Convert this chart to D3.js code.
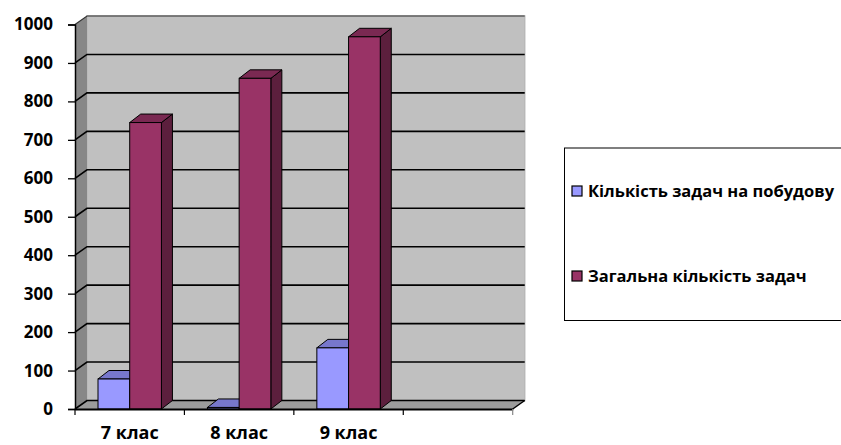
<!DOCTYPE html>
<html><head><meta charset="utf-8">
<script src="https://cdn.jsdelivr.net/npm/d3@7"></script>
<style>html,body{margin:0;padding:0;background:#fff;}svg{display:block;}</style>
</head><body>
<script>
const categories = ["7 клас", "8 клас", "9 клас", ""];
const seriesNames = ["Кількість задач на побудову", "Загальна кількість задач"];
const constructionTasks = [78, 4, 159, null];
const totalTasks = [745, 860, 968, null];
const yTickValues = [0, 100, 200, 300, 400, 500, 600, 700, 800, 900, 1000];

const W = 841, H = 445;
const FONT = "'Open Sans', 'Noto Sans', sans-serif";
const colors = [
  {front: "#9999FF", top: "#7777CC", side: "#6666AA"},
  {front: "#993366", top: "#7A2952", side: "#5C1F3D"}
];
const DX = 12, DY = -8.5;     // wall depth
const BDX = 11, BDY = -8.5;   // bar depth

const svg = d3.select("body").append("svg").attr("width", W).attr("height", H);

const y = d3.scaleLinear().domain([0, 1000]).range([409, 24.5]);
const x0 = d3.scaleBand().domain(categories).range([75, 512.7]).padding(0);
const x1 = d3.scaleBand().domain(seriesNames).range([23, x0.bandwidth() - 23]).padding(0);

const left = x0.range()[0], right = x0.range()[1];
const y0 = y(0), yTop = y(1000);

svg.append("path")
  .attr("d", `M${left+DX},${yTop+DY} L${right+DX},${yTop+DY} L${right+DX},${y0+DY} L${left+DX},${y0+DY} Z`)
  .attr("fill", "#C0C0C0").attr("stroke", "#B8B8B8").attr("stroke-width", 1.5);
svg.append("path")
  .attr("d", `M${left},${yTop} L${left+DX},${yTop+DY} L${left+DX},${y0+DY} L${left},${y0} Z`)
  .attr("fill", "#878787");
svg.append("path")
  .attr("d", `M${left},${y0} L${right},${y0} L${right+DX},${y0+DY} L${left+DX},${y0+DY} Z`)
  .attr("fill", "#9C9C9C");
svg.append("line").attr("x1", right).attr("y1", y0).attr("x2", right+DX).attr("y2", y0+DY)
  .attr("stroke", "#000").attr("stroke-width", 1.5);

const grid = svg.append("g");
yTickValues.forEach(v => {
  const yy = y(v);
  grid.append("path")
    .attr("d", `M${left},${yy} L${left+DX},${yy+DY} L${right+DX},${yy+DY}`)
    .attr("fill", "none").attr("stroke", v === 1000 ? "#333" : "#000").attr("stroke-width", v === 1000 ? 1.2 : 1.6);
});

const bars = svg.append("g");
categories.forEach((c, i) => {
  [constructionTasks, totalTasks].forEach((arr, s) => {
    const v = arr[i];
    if (v == null) return;
    const bx = x0(c) + x1(seriesNames[s]);
    const bw = x1.bandwidth();
    const ty = y(v);
    const col = colors[s];
    bars.append("path")
      .attr("d", `M${bx+bw},${ty} L${bx+bw+BDX},${ty+BDY} L${bx+bw+BDX},${y0+BDY} L${bx+bw},${y0} Z`)
      .attr("fill", col.side).attr("stroke", "#000").attr("stroke-width", 1).attr("stroke-linejoin", "round");
    bars.append("path")
      .attr("d", `M${bx},${ty} L${bx+BDX},${ty+BDY} L${bx+bw+BDX},${ty+BDY} L${bx+bw},${ty} Z`)
      .attr("fill", col.top).attr("stroke", "#000").attr("stroke-width", 1).attr("stroke-linejoin", "round");
    bars.append("rect")
      .attr("x", bx).attr("y", ty).attr("width", bw).attr("height", y0 - ty)
      .attr("fill", col.front).attr("stroke", "#000").attr("stroke-width", 1);
  });
});

const xAxis = d3.axisBottom(x0).tickSize(0).tickPadding(0).tickFormat(d => d);
const gx = svg.append("g").attr("transform", `translate(0,${y0})`).call(xAxis);
gx.select(".domain").attr("stroke", "#000").attr("stroke-width", 2);
gx.selectAll("text").attr("font-family", FONT).attr("font-weight", "bold").attr("font-size", 18)
  .attr("fill", "#000").attr("dy", null).attr("y", 30);
const bounds = categories.map(c => x0(c)).concat([right]);
gx.selectAll("line.bt").data(bounds).enter().append("line").attr("class", "bt")
  .attr("x1", d => d).attr("x2", d => d).attr("y1", 0).attr("y2", 6)
  .attr("stroke", (d, i) => i === bounds.length - 1 ? "#888" : "#000").attr("stroke-width", 1.2);

const yAxis = d3.axisLeft(y).tickValues(yTickValues).tickSize(7).tickPadding(15).tickFormat(d3.format("d"));
const gy = svg.append("g").attr("transform", `translate(${left},0)`).call(yAxis);
gy.select(".domain").attr("stroke", "#000").attr("stroke-width", 1.5);
gy.selectAll(".tick line").attr("stroke", "#000").attr("stroke-width", 1.3);
gy.selectAll("text").attr("font-family", FONT).attr("font-weight", "bold").attr("font-size", 17).attr("fill", "#000");

const lg = svg.append("g");
lg.append("rect").attr("x", 564.5).attr("y", 148).attr("width", 300).attr("height", 172.5)
  .attr("fill", "#fff").attr("stroke", "#000").attr("stroke-width", 1);
const legendY = [191, 276];
seriesNames.forEach((n, i) => {
  lg.append("rect").attr("x", 572).attr("y", legendY[i] - 5).attr("width", 10).attr("height", 10)
    .attr("fill", colors[i].front).attr("stroke", "#000").attr("stroke-width", 1.2);
  lg.append("text").attr("x", 588).attr("y", legendY[i]).attr("dy", "0.35em")
    .attr("font-family", FONT).attr("font-weight", "bold").attr("font-size", 16.5).attr("fill", "#000").text(n);
});
</script>
</body></html>
